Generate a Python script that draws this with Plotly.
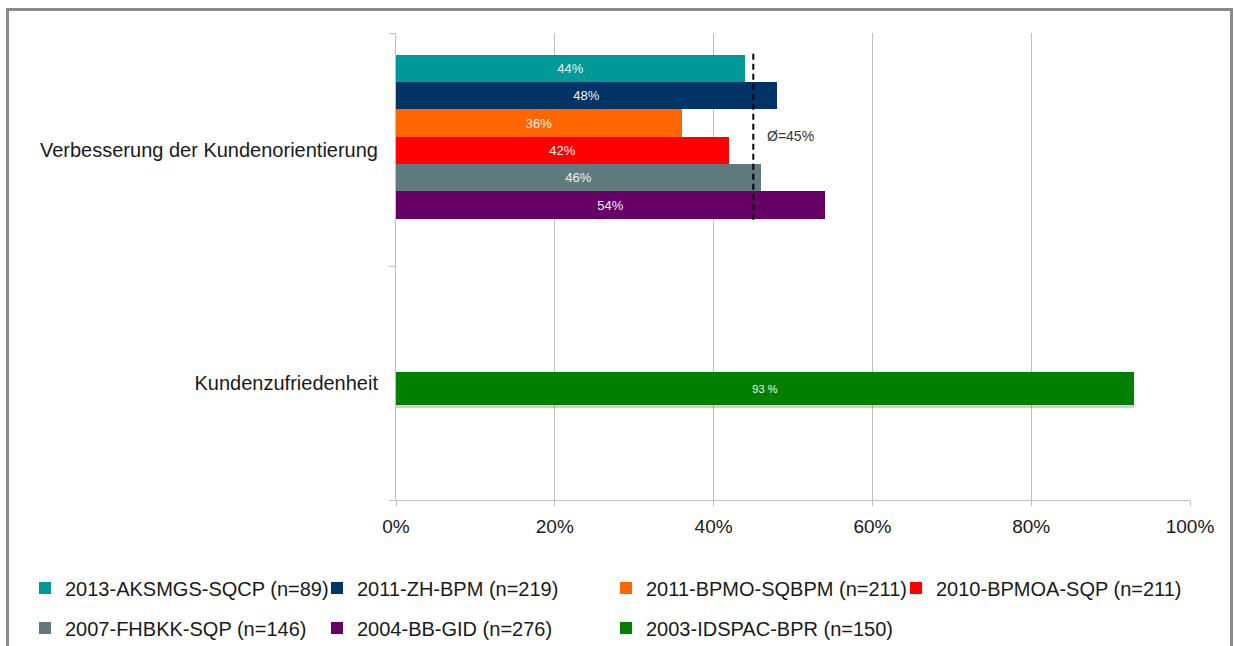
import plotly.graph_objects as go

# --- data -------------------------------------------------------------
categories = ["Kundenzufriedenheit", "Verbesserung der Kundenorientierung"]

studies = [
    "2013-AKSMGS-SQCP (n=89)",
    "2011-ZH-BPM (n=219)",
    "2011-BPMO-SQBPM (n=211)",
    "2010-BPMOA-SQP (n=211)",
    "2007-FHBKK-SQP (n=146)",
    "2004-BB-GID (n=276)",
]
orientation_values = [44, 48, 36, 42, 46, 54]   # Verbesserung der Kundenorientierung, %

satisfaction_study = "2003-IDSPAC-BPR (n=150)"
satisfaction_value = 93                           # Kundenzufriedenheit, %

average_value = 45                                # Ø over the orientation studies

x_ticks = [0, 20, 40, 60, 80, 100]

# --- styling ----------------------------------------------------------
colors = ["#009999", "#003366", "#ff6600", "#ff0000", "#607a7e", "#660066"]
green = "#008000"
font_family = "Liberation Sans, Arial, sans-serif"

# plot area in pixels
W, H = 1234, 646
L, R, T, B = 396, 44, 33, 146
pw, ph = W - L - R, H - T - B


def px_x(p):
    return (p - L) / pw


def px_y(p):
    return (H - B - p) / ph


# legend grid: four entries per row, two rows (pixel positions)
legend_cols = [25, 317, 606, 896]
legend_rows = [588, 628]
legend_ids = ["legend"] + [f"legend{k}" for k in range(2, 8)]

fig = go.Figure()

# grouped bars inside the upper category, laid out top to bottom
slot = 0.117
top = 0.407
for i, (name, val, col) in enumerate(zip(studies, orientation_values, colors)):
    fig.add_trace(go.Bar(
        y=[categories[1]], x=[val], orientation="h",
        name=name, marker=dict(color=col, line=dict(width=0)),
        offset=top - slot * (i + 1), width=slot,
        text=[f"{val}%"], textposition="inside", insidetextanchor="middle",
        textfont=dict(color="#f2f2f2", size=13, family=font_family),
        legend=legend_ids[i],
        hoverinfo="skip",
    ))

# soft shadow under the satisfaction bar
fig.add_trace(go.Bar(
    y=[categories[0]], x=[satisfaction_value], orientation="h",
    marker=dict(color="rgba(0,0,0,0.18)", line=dict(width=0)),
    offset=-0.106, width=0.141, showlegend=False, hoverinfo="skip",
))
fig.add_trace(go.Bar(
    y=[categories[0]], x=[satisfaction_value], orientation="h",
    name=satisfaction_study, marker=dict(color=green, line=dict(width=0)),
    offset=-0.092, width=0.141,
    text=[f"{satisfaction_value} %"], textposition="inside", insidetextanchor="middle",
    textfont=dict(color="#f2f2f2", size=11, family=font_family),
    legend=legend_ids[6], hoverinfo="skip",
))

# average marker
fig.add_shape(type="line", xref="x", yref="y",
              x0=average_value, x1=average_value, y0=0.70, y1=1.415,
              line=dict(color="#000000", width=2, dash="6px,4px"))
fig.add_annotation(x=average_value + 1.5, y=1.06, xref="x", yref="y",
                   text=f"Ø={average_value}%", showarrow=False, xanchor="left",
                   font=dict(size=14, color="#333333", family=font_family))

# outer frame
fig.add_shape(type="rect", xref="paper", yref="paper",
              x0=px_x(7.5), x1=px_x(1231.5), y0=px_y(700), y1=px_y(9.5),
              line=dict(color="#8a8a8a", width=3), layer="above")

legend_common = dict(
    orientation="h", xref="container", yref="container",
    xanchor="left", yanchor="middle", bgcolor="rgba(0,0,0,0)",
    font=dict(size=20, color="#1a1a1a", family=font_family),
    itemclick=False, itemdoubleclick=False,
)
legend_layout = {}
for k, lid in enumerate(legend_ids):
    row, col = divmod(k, 4)
    legend_layout[lid] = dict(x=legend_cols[col] / W,
                              y=(H - legend_rows[row]) / H, **legend_common)

fig.update_layout(
    width=W, height=H,
    margin=dict(l=L, r=R, t=T, b=B),
    paper_bgcolor="white", plot_bgcolor="white",
    barmode="overlay", bargap=0,
    showlegend=True,
    font=dict(family=font_family, color="#1a1a1a"),
    xaxis=dict(
        range=[0, 100], tickvals=x_ticks, ticktext=[f"{t}%" for t in x_ticks],
        showgrid=True, gridcolor="#bfbfbf", gridwidth=1,
        showline=True, linecolor="#bfbfbf", linewidth=1,
        ticks="outside", ticklen=5, tickcolor="#bfbfbf",
        zeroline=False, tickfont=dict(size=19, color="#1a1a1a"),
        ticklabelstandoff=4, automargin=False,
    ),
    yaxis=dict(
        type="category", categoryorder="array", categoryarray=categories,
        range=[-0.5, 1.5], showgrid=False,
        showline=True, linecolor="#bfbfbf", linewidth=1,
        ticks="outside", ticklen=6, tickcolor="#bfbfbf", tickson="boundaries",
        tickfont=dict(size=20, color="#1a1a1a"), ticklabelstandoff=13,
        automargin=False,
    ),
    **legend_layout,
)

fig.write_html("out.html")
